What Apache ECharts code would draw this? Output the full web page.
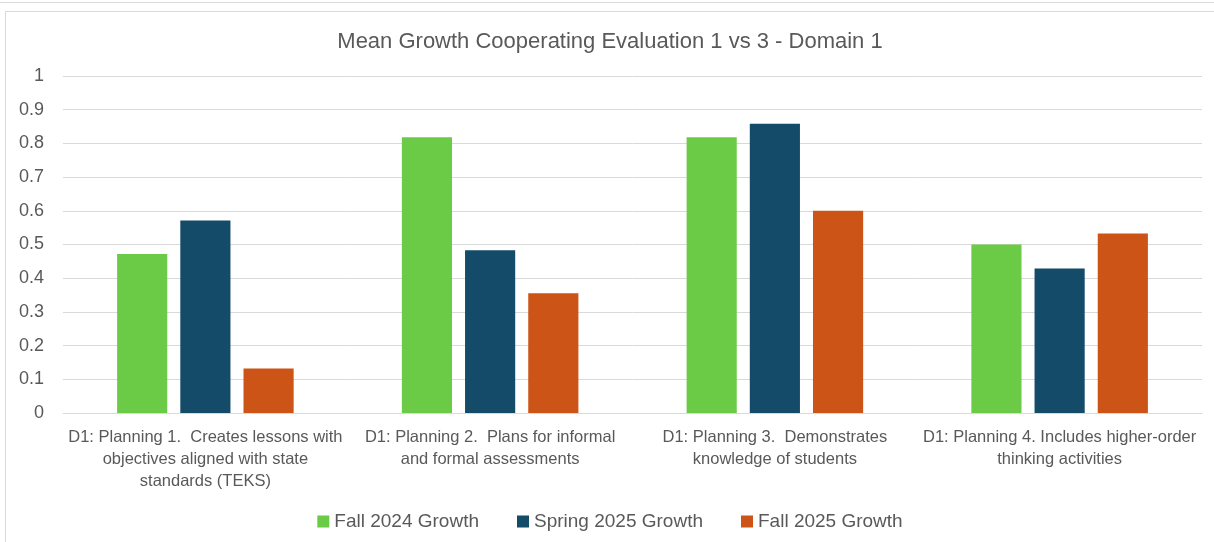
<!DOCTYPE html>
<html>
<head>
<meta charset="utf-8">
<script src="https://cdn.jsdelivr.net/npm/echarts@6/dist/echarts.min.js"></script>
<style>
    html, body { margin: 0; padding: 0; background: #fff; }
    #topline { position: absolute; left: 0; top: 2px; width: 1214px; height: 1px; background: #d9d9d9; }
    #frame { position: absolute; left: 5px; top: 11px; width: 1209px; height: 531px; border-left: 1px solid #d9d9d9; border-top: 1px solid #d9d9d9; }
    #charts { width: 1208px; height: 530px; }
</style>
</head>
<body>
<div id="topline"></div>
<div id="frame"><div id="charts"></div></div>
<script>
const categories = [
    'D1: Planning 1.  Creates lessons with\nobjectives aligned with state\nstandards (TEKS)',
    'D1: Planning 2.  Plans for informal\nand formal assessments',
    'D1: Planning 3.  Demonstrates\nknowledge of students',
    'D1: Planning 4. Includes higher-order\nthinking activities'
]
const fall2024 = [0.472, 0.818, 0.818, 0.5]
const spring2025 = [0.571, 0.483, 0.858, 0.429]
const fall2025 = [0.132, 0.355, 0.6, 0.533]

const fontFam = '"Liberation Sans", "DejaVu Sans", sans-serif'
const textGrey = '#595959'

let chart = echarts.init(document.getElementById('charts'))
chart.setOption({
    animation: false,
    title: {
        text: 'Mean Growth Cooperating Evaluation 1 vs 3 - Domain 1',
        left: 'center',
        top: 14,
        textStyle: { fontFamily: fontFam, fontSize: 22, fontWeight: 'normal', color: textGrey }
    },
    legend: {
        top: 495,
        left: 'center',
        itemWidth: 12,
        itemHeight: 12,
        itemGap: 38,
        icon: 'rect',
        textStyle: { fontFamily: fontFam, fontSize: 19, color: textGrey }
    },
    grid: { left: 57, right: 12, top: 64, bottom: 129, containLabel: false },
    xAxis: {
        type: 'category',
        data: categories,
        axisTick: { show: false },
        axisLine: { lineStyle: { color: '#d9d9d9', width: 1 } },
        axisLabel: {
            interval: 0,
            margin: 13,
            fontFamily: fontFam,
            fontSize: 16.5,
            lineHeight: 22,
            color: textGrey
        }
    },
    yAxis: {
        type: 'value',
        min: 0,
        max: 1,
        interval: 0.1,
        axisLine: { show: false },
        axisTick: { show: false },
        splitLine: { lineStyle: { color: '#d9d9d9', width: 1 } },
        axisLabel: {
            margin: 19,
            fontFamily: fontFam,
            fontSize: 18,
            color: textGrey,
            formatter: v => String(Math.round(v * 10) / 10)
        }
    },
    series: [
        { name: 'Fall 2024 Growth', type: 'bar', data: fall2024, itemStyle: { color: '#6bcb46' }, barGap: '26%', barCategoryGap: '38%' },
        { name: 'Spring 2025 Growth', type: 'bar', data: spring2025, itemStyle: { color: '#134b69' } },
        { name: 'Fall 2025 Growth', type: 'bar', data: fall2025, itemStyle: { color: '#cb5416' } }
    ]
});
</script>
</body>
</html>
